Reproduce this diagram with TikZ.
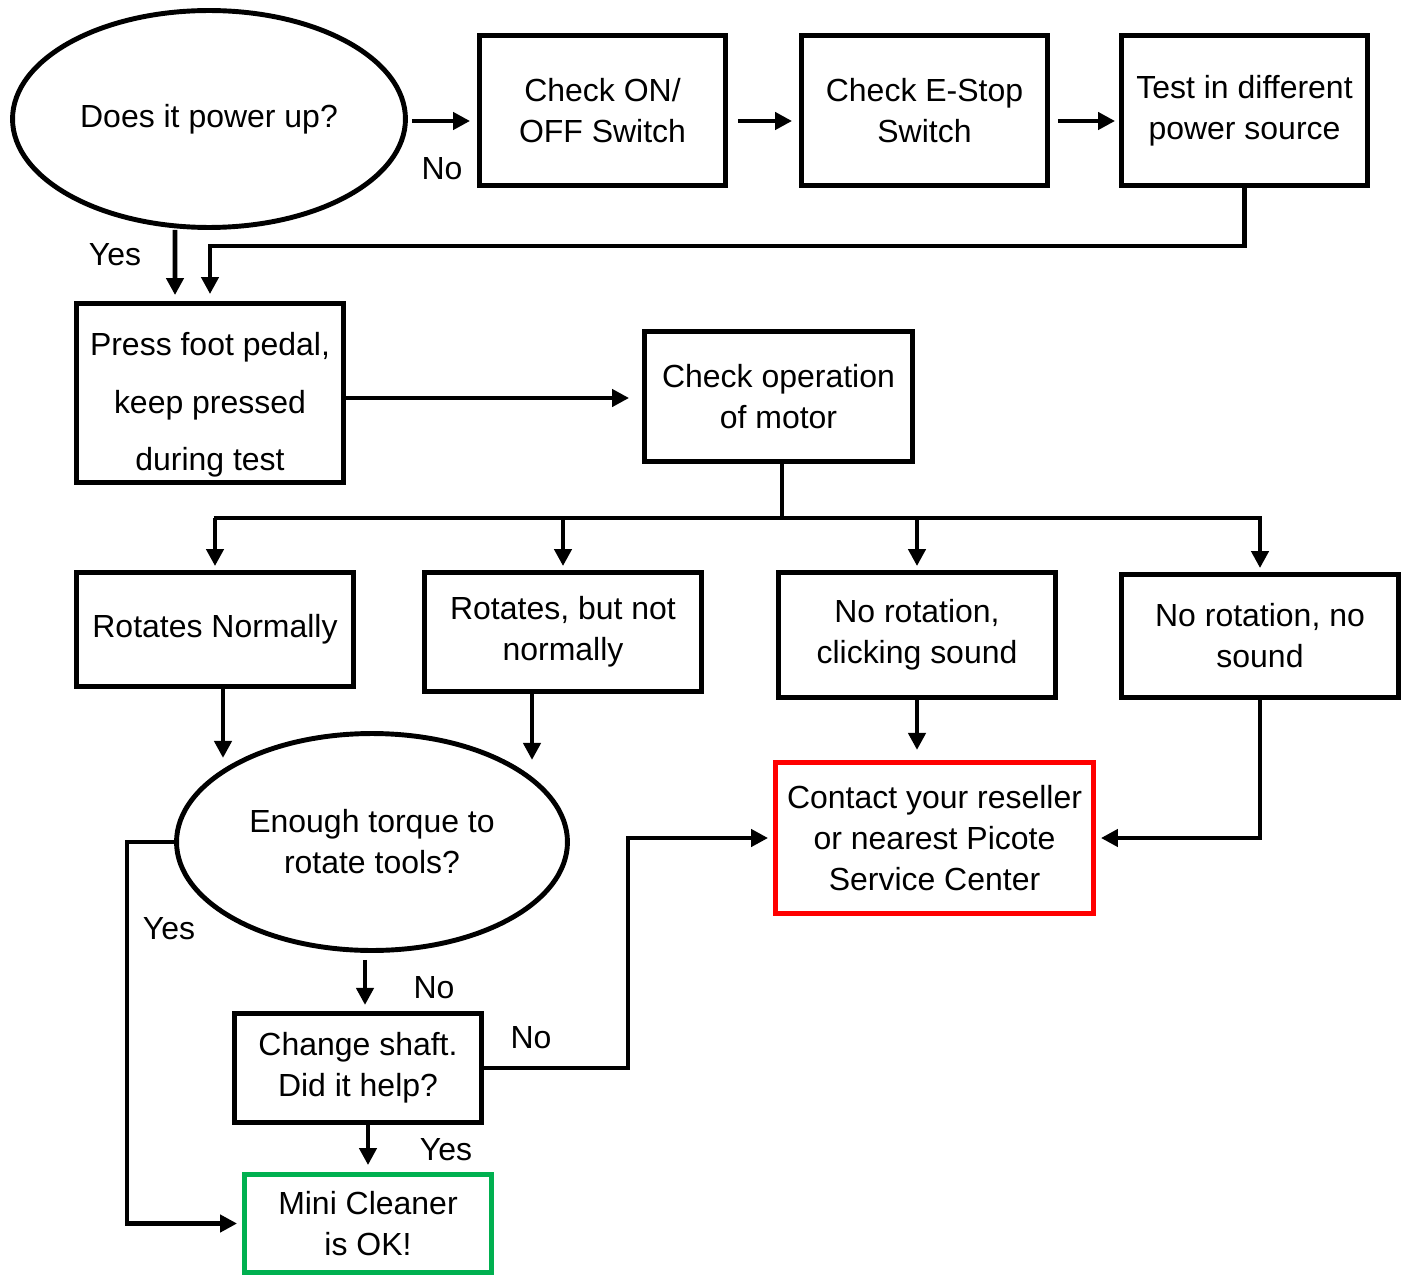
\documentclass[tikz,border=0pt]{standalone}
\usepackage{fontspec}
\setmainfont{Liberation Sans}
\usetikzlibrary{shapes.geometric,arrows.meta}
\definecolor{okgreen}{HTML}{00B050}
\definecolor{callred}{HTML}{FF0000}
\tikzset{
  box/.style={draw, line width=2.8pt, align=center, inner sep=0pt},
  oval/.style={draw, ellipse, line width=2.8pt, align=center, inner sep=0pt},
  arr/.style={->, line width=2.6pt},
  lbl/.style={font=\fontsize{18.2}{21}\selectfont}
}
\begin{document}
\begin{tikzpicture}[x=0.02cm, y=-0.02cm, >={Triangle[length=0.34cm,width=0.34cm]},
    font=\fontsize{18.2}{23.3}\selectfont]
\useasboundingbox (0,0) rectangle (1413,1277);

% top row
\node[oval, minimum width=7.86cm, minimum height=4.34cm] (pwr) at (209,119) {Does it power up?};
\node[box, minimum width=4.92cm, minimum height=3.0cm] (onoff) at (602.5,110.5) {Check ON/\\OFF Switch};
\node[box, minimum width=4.92cm, minimum height=3.0cm] (estop) at (924.5,110.5) {Check E-Stop\\Switch};
\node[box, minimum width=4.92cm, minimum height=3.0cm] (source) at (1244.5,110.5) {Test in different\\power source};

\draw[arr, shorten <=0.08cm, shorten >=0.14cm] (pwr.east) ++(0,2) -- (onoff.west |- 0,121);
\draw[arr, shorten <=0.2cm, shorten >=0.14cm] (onoff.east |- 0,121) -- (estop.west |- 0,121);
\draw[arr, shorten <=0.16cm, shorten >=0.08cm] (estop.east |- 0,121) -- (source.west |- 0,121);
\node[lbl] (lno1) at (442,169) {No};

% pedal and motor
\node[box, minimum width=5.34cm, minimum height=3.58cm,
  label={[name=pedaltxt, align=center, yshift=-0.24cm, font=\fontsize{18.2}{32.6}\selectfont]center:Press foot pedal,\\keep pressed\\during test}] (pedal) at (210,393) {};
\node[box, minimum width=5.36cm, minimum height=2.6cm] (motor) at (778.5,396.5) {Check operation\\of motor};

\draw[arr, shorten >=0.14cm] (source.south) -- ++(0,58) -| (pedal.north);
\draw[arr, shorten >=0.12cm] ([xshift=-0.68cm]pwr.south) -- ([xshift=-0.7cm]pedal.north);
\node[lbl] (lyes1) at (115,255) {Yes};
\draw[arr, shorten >=0.26cm] ([yshift=-0.1cm]pedal.east) -- ([yshift=-0.1cm]pedal.east -| motor.west);

% motor results
\node[box, minimum width=5.54cm, minimum height=2.28cm] (rnorm) at (215,629.5) {Rotates Normally};
\node[box, minimum width=5.54cm, minimum height=2.38cm] (rbad) at (563,632) {Rotates, but not\\normally};
\node[box, minimum width=5.54cm, minimum height=2.5cm] (click) at (917,635) {No rotation,\\clicking sound};
\node[box, minimum width=5.54cm, minimum height=2.46cm] (nosound) at (1260,636) {No rotation, no\\sound};

\coordinate (split) at (782,518);
\draw[line width=2.6pt] (motor.south -| split) -- (split);
\draw[line width=2.6pt] ([xshift=-0.03cm]rnorm.north |- split) -- ([xshift=0.03cm]nosound.north |- split);
\foreach \n in {rnorm,rbad,click,nosound}
  \draw[arr, shorten >=0.08cm] (\n.north |- split) -- (\n.north);

% torque check
\node[oval, minimum width=7.82cm, minimum height=4.34cm] (torque) at (372,842) {Enough torque to\\rotate tools?};
\node[box, draw=callred, minimum width=6.36cm, minimum height=3.02cm] (contact) at (934.5,838) {Contact your reseller\\or nearest Picote\\Service Center};

\draw[arr] ([xshift=0.16cm]rnorm.south) -- ++(0,69);
\draw[arr] ([xshift=-0.62cm]rbad.south) -- ++(0,66);
\draw[arr] (click.south) -- ++(0,50);
\draw[arr, shorten >=0.1cm] (nosound.south) |- (contact.east);

% shaft and ok
\node[box, minimum width=4.94cm, minimum height=2.18cm] (shaft) at (358,1068) {Change shaft.\\Did it help?};
\node[box, draw=okgreen, minimum width=4.94cm, minimum height=1.96cm] (ok) at (368,1223.5) {Mini Cleaner\\is OK!};

\draw[arr, shorten >=0.1cm] (torque.west) -- ++(-47,0) |- (ok.west);
\node[lbl] (lyes2) at (169,929) {Yes};
\draw[arr] ([xshift=-0.14cm]torque.south) ++(0,7) -- ++(0,45);
\node[lbl] (lno2) at (434,988) {No};
\draw[arr, shorten >=0.1cm] (shaft.east) -- ++(144,0) |- (contact.west);
\node[lbl] (lno3) at (531,1038) {No};
\draw[arr, shorten >=0.14cm] (ok.north |- shaft.south) -- (ok.north);
\node[lbl] (lyes3) at (446,1150) {Yes};
\end{tikzpicture}
\end{document}
